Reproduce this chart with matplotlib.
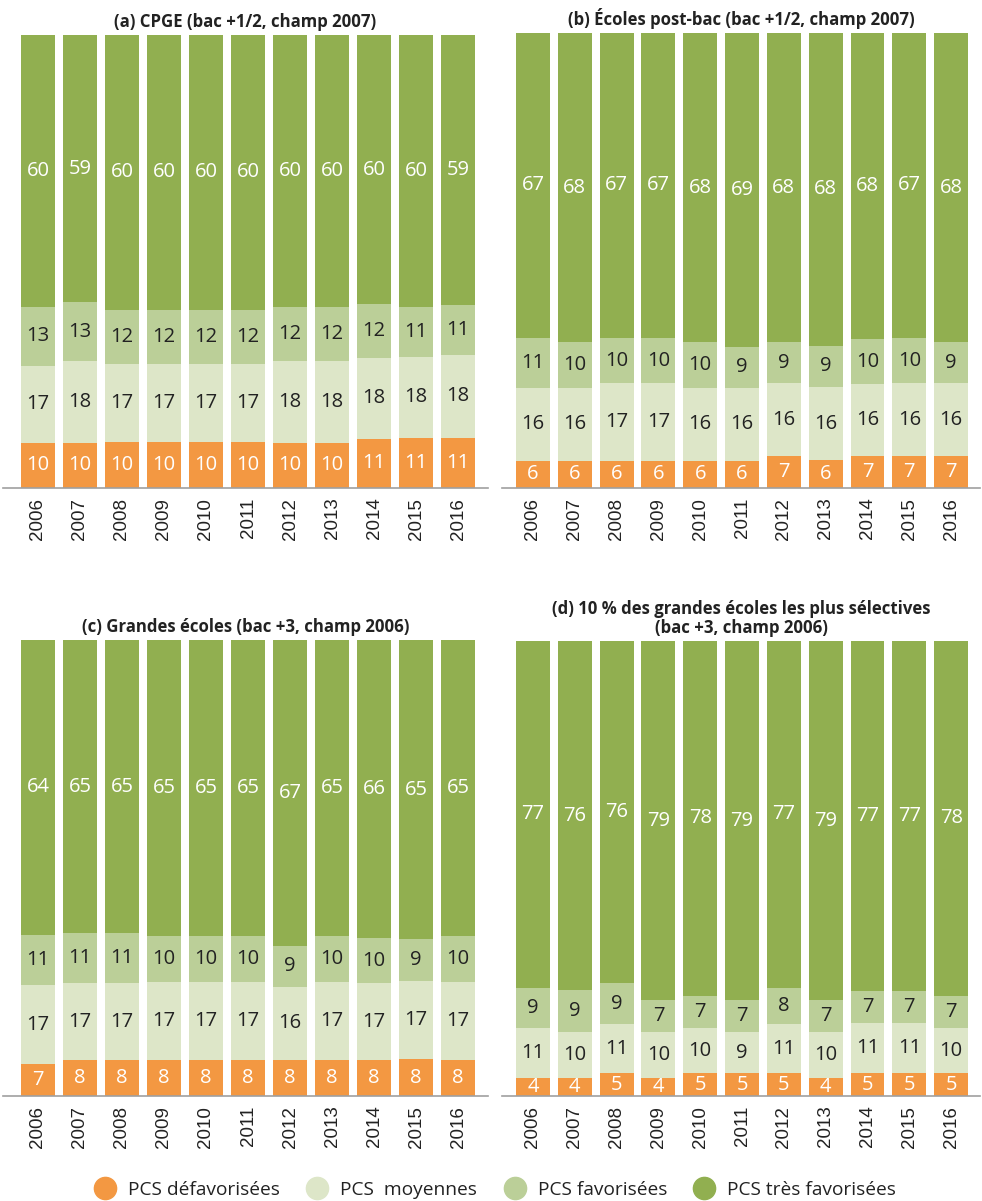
import numpy as np
import matplotlib
matplotlib.use("Agg")
import matplotlib.pyplot as plt
from matplotlib.lines import Line2D

plt.rcParams['font.family'] = ['Open Sans', 'DejaVu Sans']

years = [str(y) for y in range(2006, 2017)]
series_names = ['PCS défavorisées', 'PCS  moyennes', 'PCS favorisées', 'PCS très favorisées']
colors = ['#F39842', '#DDE6C8', '#BBCF98', '#91AF50']
text_colors = ['white', '#222222', '#222222', 'white']

# (a) CPGE
a_def = [10, 10, 10, 10, 10, 10, 10, 10, 11, 11, 11]
a_moy = [17, 18, 17, 17, 17, 17, 18, 18, 18, 18, 18]
a_fav = [13, 13, 12, 12, 12, 12, 12, 12, 12, 11, 11]
a_tfav = [60, 59, 60, 60, 60, 60, 60, 60, 60, 60, 59]
# (b) Ecoles post-bac
b_def = [6, 6, 6, 6, 6, 6, 7, 6, 7, 7, 7]
b_moy = [16, 16, 17, 17, 16, 16, 16, 16, 16, 16, 16]
b_fav = [11, 10, 10, 10, 10, 9, 9, 9, 10, 10, 9]
b_tfav = [67, 68, 67, 67, 68, 69, 68, 68, 68, 67, 68]
# (c) Grandes ecoles
c_def = [7, 8, 8, 8, 8, 8, 8, 8, 8, 8, 8]
c_moy = [17, 17, 17, 17, 17, 17, 16, 17, 17, 17, 17]
c_fav = [11, 11, 11, 10, 10, 10, 9, 10, 10, 9, 10]
c_tfav = [64, 65, 65, 65, 65, 65, 67, 65, 66, 65, 65]
# (d) 10 % les plus selectives
d_def = [4, 4, 5, 4, 5, 5, 5, 4, 5, 5, 5]
d_moy = [11, 10, 11, 10, 10, 9, 11, 10, 11, 11, 10]
d_fav = [9, 9, 9, 7, 7, 7, 8, 7, 7, 7, 7]
d_tfav = [77, 76, 76, 79, 78, 79, 77, 79, 77, 77, 78]

titles = ['(a) CPGE (bac +1/2, champ 2007)',
          '(b) Écoles post-bac (bac +1/2, champ 2007)',
          '(c) Grandes écoles (bac +3, champ 2006)',
          '(d) 10 % des grandes écoles les plus sélectives\n(bac +3, champ 2006)']
panels = [[a_def, a_moy, a_fav, a_tfav],
          [b_def, b_moy, b_fav, b_tfav],
          [c_def, c_moy, c_fav, c_tfav],
          [d_def, d_moy, d_fav, d_tfav]]

W, H = 982, 1201
fig = plt.figure(figsize=(W / 100, H / 100), dpi=100)

# axes boxes in pixels: left, right, top, bottom
boxes = [(3, 488, 35, 488), (502, 980, 33, 488),
         (3, 488, 640, 1096), (502, 980, 641, 1096)]
xlims = [(-0.83, 10.71), (-0.74, 10.69), (-0.83, 10.71), (-0.74, 10.69)]

for i, (data, title) in enumerate(zip(panels, titles)):
    l, r, t, b = boxes[i]
    ax = fig.add_axes([l / W, 1 - b / H, (r - l) / W, (b - t) / H])
    arr = np.array(data, dtype=float)
    shares = arr / arr.sum(axis=0) * 100
    x = np.arange(len(years))
    bottom = np.zeros(len(years))
    for k in range(4):
        ax.bar(x, shares[k], 0.81, bottom=bottom, color=colors[k], linewidth=0)
        for j in range(len(years)):
            ax.text(x[j], bottom[j] + shares[k][j] / 2, str(data[k][j]),
                    ha='center', va='center', fontsize=14.5, color=text_colors[k])
        bottom += shares[k]
    ax.set_xlim(*xlims[i])
    ax.set_ylim(0, 100)
    ax.set_xticks(x)
    ax.set_xticklabels(years, rotation=90, fontsize=13.5, color='#222222',
                       family=['Liberation Sans', 'DejaVu Sans'])
    ax.tick_params(axis='x', length=0, pad=7)
    ax.set_yticks([])
    for s in ['top', 'right', 'left']:
        ax.spines[s].set_visible(False)
    ax.spines['bottom'].set_color('#A0A0A0')
    ax.spines['bottom'].set_linewidth(1.2)
    ax.set_title(title, fontsize=12.1, fontweight='bold', color='#222222',
                 pad=6, linespacing=1.05)

handles = [Line2D([], [], marker='o', linestyle='', markersize=16,
                  markerfacecolor=c, markeredgecolor=c) for c in colors]
fig.legend(handles, series_names, loc='center', bbox_to_anchor=(495 / W, 1 - 1190 / H),
           ncol=4, frameon=False, fontsize=13.8, handlelength=1.2,
           handletextpad=0.6, columnspacing=1.35, labelcolor='#222222',
           borderpad=0, borderaxespad=0)

fig.savefig('out.png', dpi=100)
